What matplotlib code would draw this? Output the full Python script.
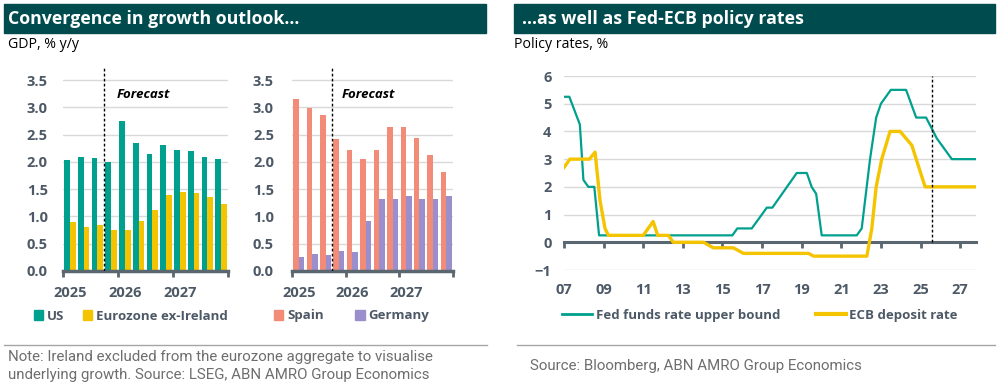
import numpy as np
import matplotlib.pyplot as plt
from matplotlib.patches import Rectangle, Patch
from matplotlib.lines import Line2D

plt.rcParams['font.family'] = ['Open Sans', 'DejaVu Sans']

# 季度 GDP 数据 (2025Q1 - 2027Q4)
years = ['2025', '2026', '2027']
us = [2.03, 2.08, 2.07, 1.99, 2.75, 2.35, 2.15, 2.30, 2.22, 2.20, 2.09, 2.06]
ez = [0.89, 0.80, 0.84, 0.75, 0.75, 0.92, 1.12, 1.39, 1.44, 1.43, 1.35, 1.23]
spain = [3.15, 2.98, 2.85, 2.42, 2.21, 2.05, 2.22, 2.63, 2.63, 2.43, 2.12, 1.82]
germany = [0.26, 0.31, 0.29, 0.36, 0.35, 0.91, 1.32, 1.32, 1.37, 1.32, 1.32, 1.37]

# 政策利率
fed_t = [2007.0, 2007.27, 2007.8, 2007.98, 2008.23, 2008.53, 2008.77, 2015.5, 2015.75,
         2016.48, 2017.24, 2017.52, 2018.75, 2019.26, 2019.5, 2019.73, 2020.01, 2021.78,
         2022.03, 2022.45, 2022.76, 2023.0, 2023.5, 2024.27, 2024.78, 2025.28, 2025.57,
         2025.82, 2026.58, 2027.8]
fed_v = [5.25, 5.25, 4.25, 2.25, 2.0, 2.0, 0.25, 0.25, 0.5, 0.5, 1.25, 1.25, 2.5, 2.5,
         2.0, 1.75, 0.25, 0.25, 0.5, 3.0, 4.5, 5.0, 5.5, 5.5, 4.5, 4.5, 4.1, 3.75, 3.0, 3.0]
ecb_t = [2007.0, 2007.3, 2008.28, 2008.57, 2008.82, 2009.07, 2009.24, 2011.0, 2011.5,
         2011.73, 2012.27, 2012.52, 2014.04, 2014.54, 2015.55, 2016.06, 2019.34, 2019.6,
         2022.29, 2022.54, 2022.76, 2023.04, 2023.46, 2023.97, 2024.56, 2025.23, 2027.8]
ecb_v = [2.7, 3.0, 3.0, 3.25, 1.5, 0.5, 0.25, 0.25, 0.75, 0.25, 0.25, 0.0, 0.0, -0.2,
         -0.2, -0.4, -0.4, -0.5, -0.5, 0.5, 2.0, 3.0, 4.0, 4.0, 3.5, 2.0, 2.0]
rate_ticks = list(range(2007, 2028, 2))

TEAL = '#00A08E'
YELLOW = '#F5C400'
SALMON = '#F28C78'
PURPLE = '#9A8FCC'
GREY = '#4D5966'
AXIS = '#5A6670'
GRID = '#D9D9D9'
BAR_BG = '#004B4E'

W, H = 999, 390
fig = plt.figure(figsize=(W / 100, H / 100), dpi=100)


def fx(px):
    return px / W


def fy(py):
    return 1 - py / H


# 标题栏
for x0, x1, tx, sx, title, sub in [
        (4, 486, 8, 8, 'Convergence in growth outlook...', 'GDP, % y/y'),
        (514, 995, 522, 514, '...as well as Fed-ECB policy rates', 'Policy rates, %')]:
    fig.patches.append(Rectangle((fx(x0), fy(33)), (x1 - x0) / W, 29 / H,
                                 transform=fig.transFigure, color=BAR_BG, zorder=0))
    fig.text(fx(tx), fy(18.5), title, color='white', fontsize=12.8, fontweight='bold',
             va='center', ha='left')
    fig.text(fx(sx), fy(44), sub, color='black', fontsize=10.2, va='center', ha='left')


def bar_panel(ax, a, b, ca, cb, ypad, fc_x):
    x = np.arange(len(a))
    w = 0.41
    ax.bar(x - w / 2, a, w, color=ca, zorder=2)
    ax.bar(x + w / 2, b, w, color=cb, zorder=2)
    ax.set_xlim(-0.5, len(a) - 0.5)
    ax.set_ylim(0, 3.72)
    ax.set_yticks(np.arange(0, 3.6, 0.5))
    ax.set_yticklabels([f'{v:.1f}' for v in np.arange(0, 3.6, 0.5)])
    ax.yaxis.grid(True, color=GRID, lw=1)
    ax.set_axisbelow(True)
    for s in ['top', 'right', 'left']:
        ax.spines[s].set_visible(False)
    ax.spines['bottom'].set_color(AXIS)
    ax.spines['bottom'].set_linewidth(2.5)
    ax.set_xticks([0, 4, 8])
    ax.set_xticklabels(years)
    ax.set_xticks([-0.5, 3.5, 7.5, 11.5], minor=True)
    ax.tick_params(axis='x', which='major', length=0, pad=11, labelsize=10.5,
                   labelcolor=GREY)
    ax.tick_params(axis='x', which='minor', length=4, width=2, color=AXIS, direction='out')
    ax.tick_params(axis='y', length=0, pad=ypad, labelsize=10.5, labelcolor=GREY)
    for lab in ax.get_xticklabels() + ax.get_yticklabels():
        lab.set_fontweight('bold')
    ax.axvline(2.5, color='black', lw=1, ls=(0, (2, 1.6)), zorder=3)
    ax.text(fc_x, 3.24, 'Forecast', fontsize=9.5, fontweight='bold', style='italic',
            color='black', va='center', ha='left')


ax1 = fig.add_axes([fx(63), fy(271), (228 - 63) / W, (271 - 68) / H])
bar_panel(ax1, us, ez, TEAL, YELLOW, 11, 3.43)
ax2 = fig.add_axes([fx(292), fy(271), (453 - 292) / W, (271 - 68) / H])
bar_panel(ax2, spain, germany, SALMON, PURPLE, 13, 3.23)

leg_kw = dict(frameon=False, loc='center left', borderpad=0, borderaxespad=0,
              handlelength=0.7, handleheight=0.7, handletextpad=0.3,
              prop={'size': 9.5, 'weight': 'bold'}, labelcolor=GREY, ncol=2)
fig.legend([Patch(color=TEAL), Patch(color=YELLOW)], ['US', 'Eurozone ex-Ireland'],
           bbox_to_anchor=(fx(34), fy(316)), columnspacing=1.4, **leg_kw)
fig.legend([Patch(color=SALMON), Patch(color=PURPLE)], ['Spain', 'Germany'],
           bbox_to_anchor=(fx(274), fy(316)), columnspacing=2.4, **leg_kw)

# 政策利率图
ax3 = fig.add_axes([fx(564), fy(270), (976 - 564) / W, (270 - 76) / H])
ax3.plot(fed_t, fed_v, color=TEAL, lw=1.6, zorder=3)
ax3.plot(ecb_t, ecb_v, color=YELLOW, lw=2.4, zorder=3)
ax3.set_xlim(2007.0, 2027.8)
ax3.set_ylim(-1, 6)
ax3.set_yticks(range(-1, 7))
ax3.yaxis.grid(True, color=GRID, lw=1)
ax3.set_axisbelow(True)
for s in ['top', 'right', 'left']:
    ax3.spines[s].set_visible(False)
ax3.spines['bottom'].set_position(('data', 0))
ax3.spines['bottom'].set_color(AXIS)
ax3.spines['bottom'].set_linewidth(2.2)
ax3.set_xticks(rate_ticks)
ax3.tick_params(axis='x', length=4, width=2, color=AXIS, direction='out',
                labelbottom=False)
ax3.tick_params(axis='y', length=0, pad=9, labelsize=10.5, labelcolor=GREY)
for lab in ax3.get_yticklabels():
    lab.set_fontweight('bold')
sec = ax3.secondary_xaxis(0)
sec.set_xticks(rate_ticks)
sec.set_xticklabels([f'{t % 100:02d}' for t in rate_ticks])
sec.spines['bottom'].set_visible(False)
sec.tick_params(length=0, pad=9, labelsize=10.5, labelcolor=GREY)
for lab in sec.get_xticklabels():
    lab.set_fontweight('bold')
ax3.axvline(2025.6, ymin=1 / 7, ymax=1, color='black', lw=1, ls=(0, (2, 1.6)), zorder=4)

fig.legend([Line2D([], [], color=TEAL, lw=2), Line2D([], [], color=YELLOW, lw=3)],
           ['Fed funds rate upper bound', 'ECB deposit rate'],
           frameon=False, loc='center left', borderpad=0, borderaxespad=0,
           handlelength=2.3, handletextpad=0.25, columnspacing=2.7, ncol=2,
           prop={'size': 9.5, 'weight': 'bold'}, labelcolor=GREY,
           bbox_to_anchor=(fx(562), fy(315)))

# 分隔线与注释
fig.add_artist(Line2D([fx(4), fx(487)], [fy(345), fy(345)], color='#A6A6A6', lw=1))
fig.add_artist(Line2D([fx(517), fx(995)], [fy(345), fy(345)], color='#A6A6A6', lw=1))
note_kw = dict(color='#6E6E6E', fontsize=10.8, va='center', ha='left',
               family=['Roboto', 'DejaVu Sans'], linespacing=1.35)
fig.text(fx(8), fy(366), 'Note: Ireland excluded from the eurozone aggregate to visualise\n'
         'underlying growth. Source: LSEG, ABN AMRO Group Economics', **note_kw)
fig.text(fx(530), fy(366), 'Source: Bloomberg, ABN AMRO Group Economics', **note_kw)

fig.savefig('out.png', dpi=100, facecolor='white')
